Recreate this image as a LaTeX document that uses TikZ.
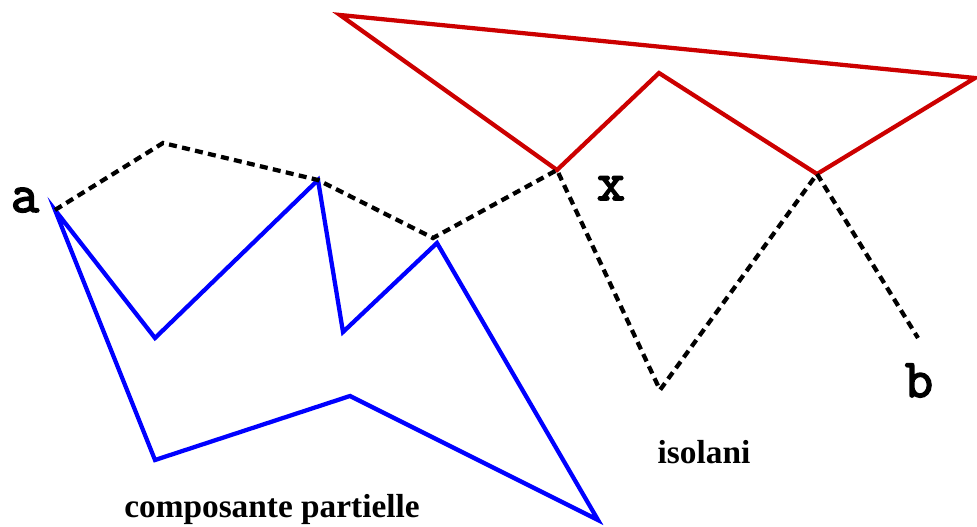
\documentclass[tikz,border=0pt]{standalone}
\usepackage{fontspec}
\setmainfont{Liberation Serif}
\newfontfamily\monob{Latin Modern Mono}[FakeBold=3]
\begin{document}
\begin{tikzpicture}[x=0.75pt,y=-0.75pt,
  blueline/.style={draw={rgb,255:red,0;green,0;blue,255},line width=3.2pt,line join=miter},
  redline/.style={draw={rgb,255:red,204;green,0;blue,0},line width=3.2pt,line join=miter},
  dashline/.style={draw=black,line width=3.2pt,dash pattern=on 6pt off 4pt},
  lbl/.style={font=\fontsize{41}{41}\selectfont\monob,anchor=base,inner sep=0pt},
  txt/.style={font=\fontsize{25}{25}\selectfont\bfseries,anchor=base,inner sep=0pt}]
\useasboundingbox (0,0) rectangle (977,527);
% vertices
\coordinate (a) at (55,210);
\coordinate (b1) at (155,338);
\coordinate (b2) at (318,180);
\coordinate (b3) at (343,332);
\coordinate (b4) at (437,243);
\coordinate (b5) at (598,520);
\coordinate (b6) at (350,396);
\coordinate (b7) at (155,460);
\coordinate (d1) at (163,143);
\coordinate (d3) at (433,238);
\coordinate (x) at (557,170);
\coordinate (d5) at (660,390);
\coordinate (y) at (817,174);
\coordinate (bend) at (918,338);
\coordinate (r1) at (340,15);
\coordinate (r3) at (659,73);
\coordinate (r5) at (975,78);
% blue component
\draw[blueline] (a) -- (b1) -- (b2) -- (b3) -- (b4) -- (b5) -- (b6) -- (b7) -- cycle;
% red
\draw[redline] (r1) -- (x) -- (r3) -- (y) -- (r5) -- cycle;
% dashed path
\draw[dashline] (a) -- (d1) -- (b2) -- (d3) -- (x) -- (d5) -- (y) -- (bend);
% labels
\node[lbl] (la) at (25,212) {a};
\node[lbl] (lx) at (611,200) {x};
\node[lbl] (lb) at (919,397) {b};
\node[txt] (iso) at (704,463) {isolani};
\node[txt] (comp) at (272,517) {composante partielle};
\end{tikzpicture}
\end{document}
